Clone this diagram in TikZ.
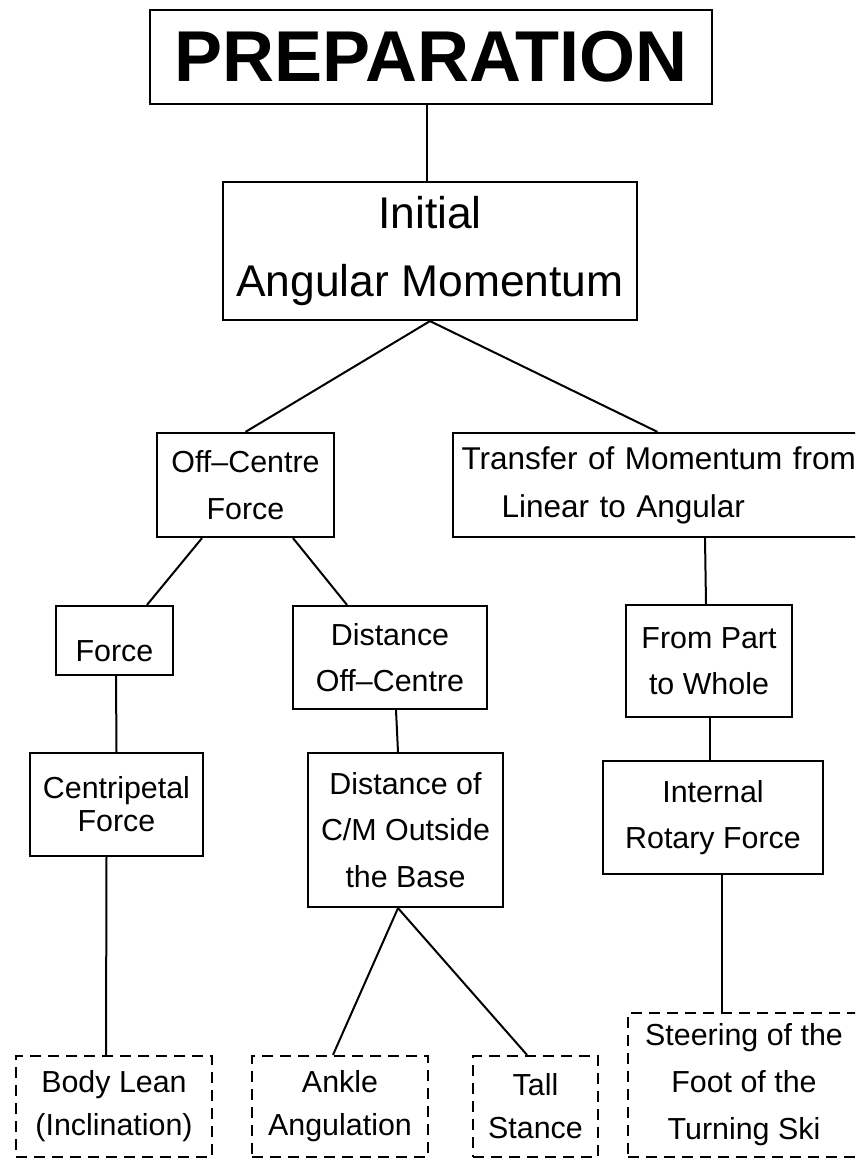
\documentclass[tikz,border=0pt]{standalone}
\usepackage{fontspec}
\setmainfont{Liberation Sans}
\usetikzlibrary{calc}
\begin{document}
\begin{tikzpicture}[x=1pt,y=-1pt,
  box/.style={draw, rectangle, line width=2.2pt, inner sep=0pt, align=center,
    font=\fontsize{30.4}{46.5}\selectfont},
  dbox/.style={box, dash pattern=on 11pt off 7pt},
  conn/.style={line width=2pt}]
\useasboundingbox (0,0) rectangle (855,1159);
\clip (0,0) rectangle (855,1159);
\fill[white] (0,0) rectangle (855,1159);

\node[box, minimum width=562pt, minimum height=94pt,
  font=\fontsize{72}{80}\selectfont\bfseries] (prep) at (431,57) {PREPARATION};
\node[box, minimum width=414pt, minimum height=138pt,
  font=\fontsize{44.4}{68}\selectfont] (init) at (430,251) {Initial\\Angular Momentum};
\node[box, minimum width=177pt, minimum height=104pt] (ocf) at (245.5,485) {Off--Centre\\Force};
\node[box, minimum width=417pt, minimum height=104pt, text width=400pt, align=left,
  font=\fontsize{31.5}{48}\selectfont] (tr) at (661.5,485)
  {Transfer of Momentum from\\\hspace*{40pt}Linear to Angular};
\node[box, minimum width=117pt, minimum height=69pt, text height=41pt, text depth=0pt] (force) at (114.5,640.5) {Force};
\node[box, minimum width=173pt, minimum height=103pt,
  font=\fontsize{30.4}{33}\selectfont] (cent) at (116.5,804.5) {Centripetal\\Force};
\node[box, minimum width=194pt, minimum height=103pt] (doc) at (390,657.5) {Distance\\Off--Centre};
\node[box, minimum width=195pt, minimum height=154pt] (dcm) at (405.5,830) {Distance of\\C/M Outside\\the Base};
\node[box, minimum width=166pt, minimum height=112pt] (fpw) at (709,661) {From Part\\to Whole};
\node[box, minimum width=220pt, minimum height=113pt] (irf) at (713,817.5) {Internal\\Rotary Force};

\node[dbox, minimum width=196pt, minimum height=101pt, font=\fontsize{30.4}{43}\selectfont] (body) at (114,1106.5) {Body Lean\\(Inclination)};
\node[dbox, minimum width=176pt, minimum height=101pt, font=\fontsize{30.4}{43}\selectfont] (ankle) at (340,1106.5) {Ankle\\Angulation};
\node[dbox, minimum width=125pt, minimum height=101pt, font=\fontsize{30.4}{43}\selectfont] (tall) at (535.5,1106.5) {Tall\\Stance};
\node[dbox, minimum width=232pt, minimum height=144pt, font=\fontsize{30.4}{47}\selectfont] (steer) at (744,1085) {Steering of the\\Foot of the\\Turning Ski};

\draw[conn] ($(prep.south)+(-4,0)$) -- ($(init.north)+(-3,0)$);
\draw[conn] (init.south) -- (ocf.north);
\draw[conn] (init.south) -- ($(tr.north)+(-4,0)$);
\draw[conn] ($(ocf.south)+(-43.5,0)$) -- ($(force.north)+(32.5,0)$);
\draw[conn] ($(ocf.south)+(47.5,0)$) -- ($(doc.north)+(-43,0)$);
\draw[conn] ($(force.south)+(1.5,0)$) -- (cent.north);
\draw[conn] ($(cent.south)+(-10,0)$) -- ($(body.north)+(-8,0)$);
\draw[conn] ($(doc.south)+(6,0)$) -- ($(dcm.north)+(-7.5,0)$);
\draw[conn] ($(dcm.south)+(-7.5,0)$) -- ($(ankle.north)+(-7,0)$);
\draw[conn] ($(dcm.south)+(-7.5,0)$) -- ($(tall.north)+(-8.5,0)$);
\draw[conn] ($(tr.south)+(43.5,0)$) -- ($(fpw.north)+(-3,0)$);
\draw[conn] ($(fpw.south)+(1,0)$) -- ($(irf.north)+(-3,0)$);
\draw[conn] ($(irf.south)+(9,0)$) -- ($(steer.north)+(-22,0)$);
\end{tikzpicture}
\end{document}
